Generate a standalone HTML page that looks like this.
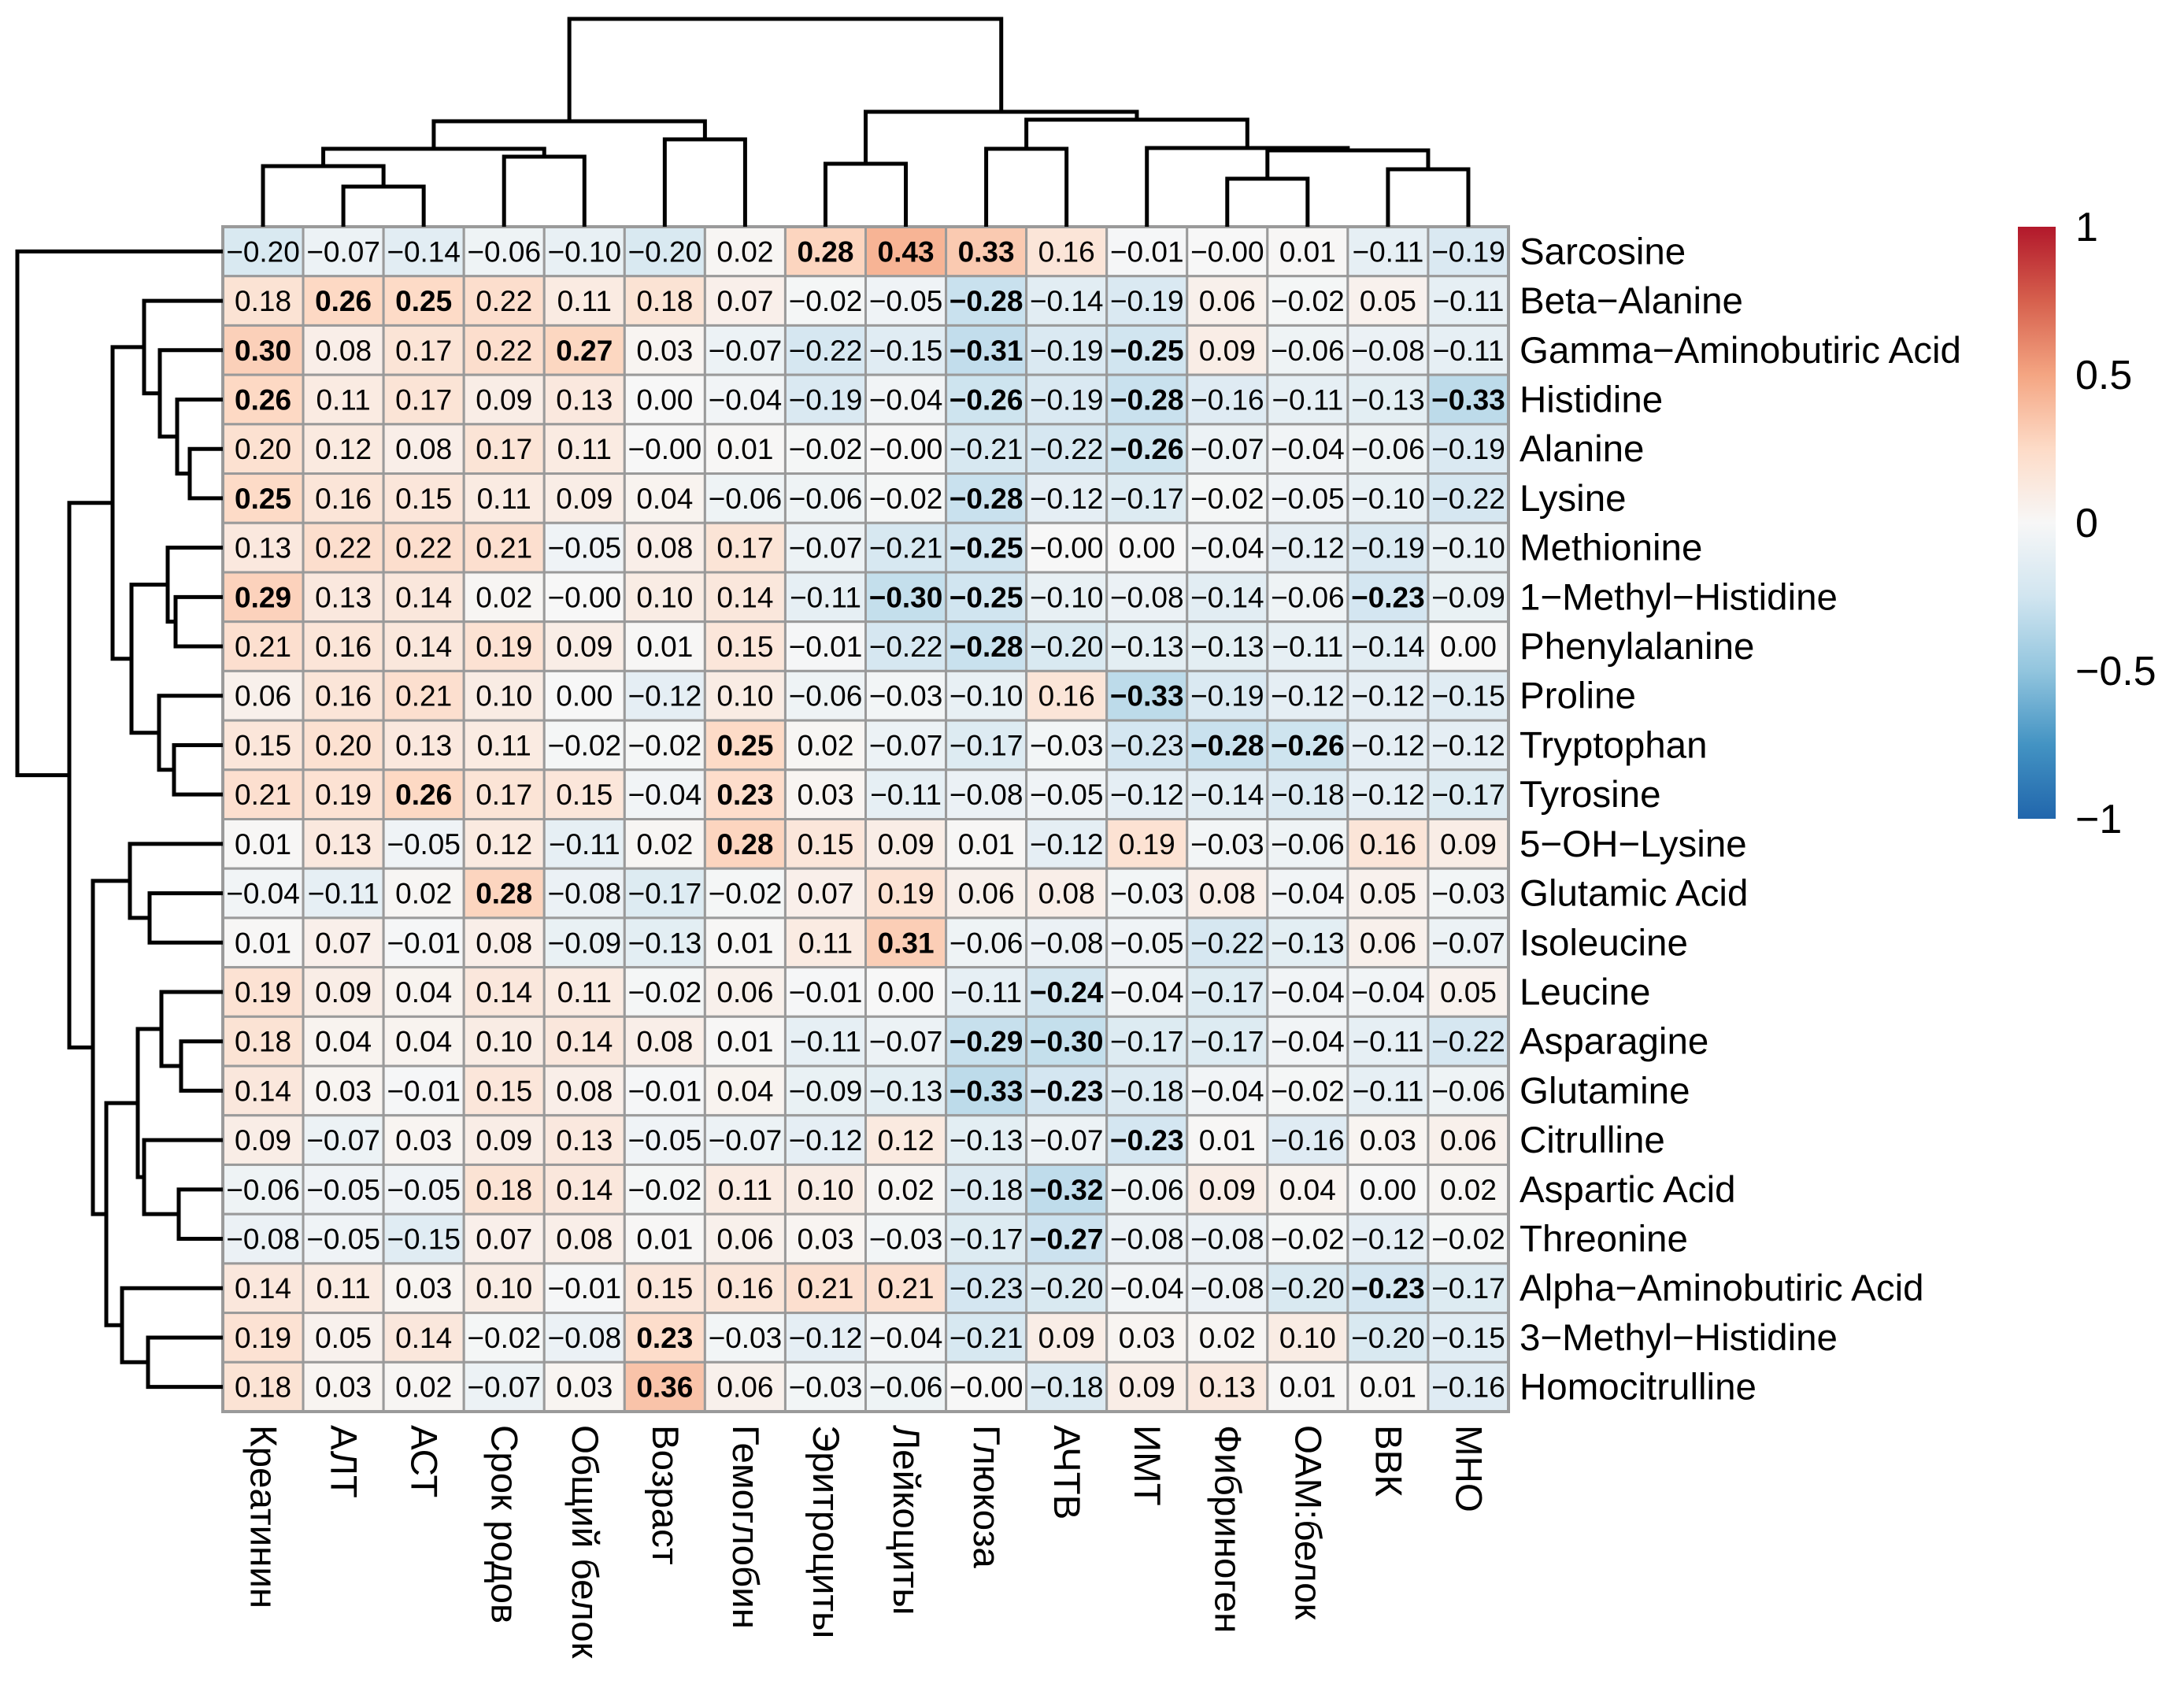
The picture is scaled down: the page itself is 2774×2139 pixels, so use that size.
<!DOCTYPE html>
<html><head><meta charset="utf-8">
<style>
html,body{margin:0;padding:0;background:#fff;}
svg{display:block;}
text{font-family:"Liberation Sans","DejaVu Sans",sans-serif;fill:#000;}
</style></head>
<body>
<svg id="chart" xmlns="http://www.w3.org/2000/svg" width="2774" height="2139" viewBox="0 0 2774 2139">
<defs>
<linearGradient id="rdbu" x1="0" y1="1" x2="0" y2="0">
<stop offset="0" stop-color="#2166AC"/><stop offset="0.125" stop-color="#4393C3"/><stop offset="0.25" stop-color="#92C5DE"/><stop offset="0.375" stop-color="#D1E5F0"/><stop offset="0.5" stop-color="#F7F7F7"/><stop offset="0.625" stop-color="#FDDBC7"/><stop offset="0.75" stop-color="#F4A582"/><stop offset="0.875" stop-color="#D6604D"/><stop offset="1" stop-color="#B2182B"/>
</linearGradient>
</defs>
<g id="cells"></g>
<g id="dendro"></g>
<g id="labels"></g>
<g id="legend">
<rect x="2563" y="288" width="48" height="752" fill="url(#rdbu)"/>
</g>
</svg>
<script>
const rowLabels = ["Sarcosine","Beta\u2212Alanine","Gamma\u2212Aminobutiric Acid","Histidine","Alanine","Lysine","Methionine","1\u2212Methyl\u2212Histidine","Phenylalanine","Proline","Tryptophan","Tyrosine","5\u2212OH\u2212Lysine","Glutamic Acid","Isoleucine","Leucine","Asparagine","Glutamine","Citrulline","Aspartic Acid","Threonine","Alpha\u2212Aminobutiric Acid","3\u2212Methyl\u2212Histidine","Homocitrulline"];
const colLabels = ["Креатинин","АЛТ","АСТ","Срок родов","Общий белок","Возраст","Гемоглобин","Эритроциты","Лейкоциты","Глюкоза","АЧТВ","ИМТ","Фибриноген","ОАМ:белок","ВВК","МНО"];
const values = [
[-0.20,-0.07,-0.14,-0.06,-0.10,-0.20,0.02,0.28,0.43,0.33,0.16,-0.01,-0.00,0.01,-0.11,-0.19],
[0.18,0.26,0.25,0.22,0.11,0.18,0.07,-0.02,-0.05,-0.28,-0.14,-0.19,0.06,-0.02,0.05,-0.11],
[0.30,0.08,0.17,0.22,0.27,0.03,-0.07,-0.22,-0.15,-0.31,-0.19,-0.25,0.09,-0.06,-0.08,-0.11],
[0.26,0.11,0.17,0.09,0.13,0.00,-0.04,-0.19,-0.04,-0.26,-0.19,-0.28,-0.16,-0.11,-0.13,-0.33],
[0.20,0.12,0.08,0.17,0.11,-0.00,0.01,-0.02,-0.00,-0.21,-0.22,-0.26,-0.07,-0.04,-0.06,-0.19],
[0.25,0.16,0.15,0.11,0.09,0.04,-0.06,-0.06,-0.02,-0.28,-0.12,-0.17,-0.02,-0.05,-0.10,-0.22],
[0.13,0.22,0.22,0.21,-0.05,0.08,0.17,-0.07,-0.21,-0.25,-0.00,0.00,-0.04,-0.12,-0.19,-0.10],
[0.29,0.13,0.14,0.02,-0.00,0.10,0.14,-0.11,-0.30,-0.25,-0.10,-0.08,-0.14,-0.06,-0.23,-0.09],
[0.21,0.16,0.14,0.19,0.09,0.01,0.15,-0.01,-0.22,-0.28,-0.20,-0.13,-0.13,-0.11,-0.14,0.00],
[0.06,0.16,0.21,0.10,0.00,-0.12,0.10,-0.06,-0.03,-0.10,0.16,-0.33,-0.19,-0.12,-0.12,-0.15],
[0.15,0.20,0.13,0.11,-0.02,-0.02,0.25,0.02,-0.07,-0.17,-0.03,-0.23,-0.28,-0.26,-0.12,-0.12],
[0.21,0.19,0.26,0.17,0.15,-0.04,0.23,0.03,-0.11,-0.08,-0.05,-0.12,-0.14,-0.18,-0.12,-0.17],
[0.01,0.13,-0.05,0.12,-0.11,0.02,0.28,0.15,0.09,0.01,-0.12,0.19,-0.03,-0.06,0.16,0.09],
[-0.04,-0.11,0.02,0.28,-0.08,-0.17,-0.02,0.07,0.19,0.06,0.08,-0.03,0.08,-0.04,0.05,-0.03],
[0.01,0.07,-0.01,0.08,-0.09,-0.13,0.01,0.11,0.31,-0.06,-0.08,-0.05,-0.22,-0.13,0.06,-0.07],
[0.19,0.09,0.04,0.14,0.11,-0.02,0.06,-0.01,0.00,-0.11,-0.24,-0.04,-0.17,-0.04,-0.04,0.05],
[0.18,0.04,0.04,0.10,0.14,0.08,0.01,-0.11,-0.07,-0.29,-0.30,-0.17,-0.17,-0.04,-0.11,-0.22],
[0.14,0.03,-0.01,0.15,0.08,-0.01,0.04,-0.09,-0.13,-0.33,-0.23,-0.18,-0.04,-0.02,-0.11,-0.06],
[0.09,-0.07,0.03,0.09,0.13,-0.05,-0.07,-0.12,0.12,-0.13,-0.07,-0.23,0.01,-0.16,0.03,0.06],
[-0.06,-0.05,-0.05,0.18,0.14,-0.02,0.11,0.10,0.02,-0.18,-0.32,-0.06,0.09,0.04,0.00,0.02],
[-0.08,-0.05,-0.15,0.07,0.08,0.01,0.06,0.03,-0.03,-0.17,-0.27,-0.08,-0.08,-0.02,-0.12,-0.02],
[0.14,0.11,0.03,0.10,-0.01,0.15,0.16,0.21,0.21,-0.23,-0.20,-0.04,-0.08,-0.20,-0.23,-0.17],
[0.19,0.05,0.14,-0.02,-0.08,0.23,-0.03,-0.12,-0.04,-0.21,0.09,0.03,0.02,0.10,-0.20,-0.15],
[0.18,0.03,0.02,-0.07,0.03,0.36,0.06,-0.03,-0.06,-0.00,-0.18,0.09,0.13,0.01,0.01,-0.16]];
const boldCells = ["0,7","0,8","0,9","1,1","1,2","1,9","2,0","2,4","2,9","2,11","3,0","3,9","3,11","3,15","4,11","5,0","5,9","6,9","7,0","7,8","7,9","7,14","8,9","9,11","10,6","10,12","10,13","11,2","11,6","12,6","13,3","14,8","15,10","16,9","16,10","17,9","17,10","18,11","19,10","20,10","21,14","22,5","23,5"];
const legendTicks = [1,0.5,0,-0.5,-1];
const legendTickLabels = ["1","0.5","0","\u22120.5","\u22121"];
// dendrogram merges: [left, right, height]
const cN12=[1,2,51], cN012=[0,cN12,77], cN34=[3,4,89], cN04=[cN012,cN34,99], cN56=[5,6,111], cL=[cN04,cN56,134];
const cN78=[7,8,80], cN910=[9,10,99], cN1213=[12,13,61], cN1415=[14,15,73], cN1215=[cN1213,cN1415,97], cN1115=[11,cN1215,100], cN915=[cN910,cN1115,136], cR=[cN78,cN915,146];
const colTree=[cL,cR,264];
const rN45=[4,5,42], rN35=[3,rN45,58], rN25=[2,rN35,80], rA1=[1,rN25,100];
const rN78=[7,8,60], rN68=[6,rN78,70], rN1011=[10,11,62], rN911=[9,rN1011,81], rA2=[rN68,rN911,116], rA=[rA1,rA2,140];
const rN1314=[13,14,93], rB1=[12,rN1314,118], rN1617=[16,17,53], rN1517=[15,rN1617,78], rN1920=[19,20,56], rN1820=[18,rN1920,100], rN1520=[rN1517,rN1820,108];
const rN2223=[22,23,95], rN2123=[21,rN2223,128], rB2=[rN1520,rN2123,148], rB=[rB1,rB2,165], rRest=[rA,rB,195];
const rowTree=[0,rRest,261];

const NS="http://www.w3.org/2000/svg";
const X0=283, X1=1916, Y0=288, Y1=1793;
const CW=(X1-X0)/colLabels.length, CH=(Y1-Y0)/rowLabels.length;
const xCol=i=>X0+CW*(i+0.5), yRow=i=>Y0+CH*(i+0.5);
const stops=[[-1,[33,102,172]],[-0.75,[67,147,195]],[-0.5,[146,197,222]],[-0.25,[209,229,240]],[0,[247,247,247]],[0.25,[253,219,199]],[0.5,[244,165,130]],[0.75,[214,96,77]],[1,[178,24,43]]];
function color(v){for(let i=0;i<stops.length-1;i++){const a=stops[i],b=stops[i+1];if(v<=b[0]){const t=(v-a[0])/(b[0]-a[0]);const c=a[1].map((x,k)=>Math.round(x+(b[1][k]-x)*t));return `rgb(${c})`;}}return "rgb(178,24,43)";}
function fmt(v){const s=Math.abs(v).toFixed(2);return (v<0||Object.is(v,-0))?"\u2212"+s:s;}
function mk(tag,attrs,parent){const e=document.createElementNS(NS,tag);for(const k in attrs)e.setAttribute(k,attrs[k]);parent.appendChild(e);return e;}

const cells=document.getElementById('cells');
values.forEach((row,r)=>row.forEach((v,c)=>{
  const rect=mk('rect',{x:X0+CW*c,y:Y0+CH*r,width:CW,height:CH,fill:color(v),stroke:'#9a9a9a','stroke-width':3},cells);
  
  
  const t=mk('text',{x:xCol(c),y:yRow(r)+13,'text-anchor':'middle','font-size':37,'font-weight':boldCells.includes(r+','+c)?'bold':'normal'},cells);
  t.textContent=fmt(v);
  
  
}));
mk('rect',{x:X0,y:Y0,width:X1-X0,height:Y1-Y0,fill:'none',stroke:'#9a9a9a','stroke-width':4},cells);

const labels=document.getElementById('labels');
rowLabels.forEach((l,r)=>{const t=mk('text',{x:1930,y:yRow(r)+16,'font-size':47.5},labels);t.textContent=l;
  
  });
colLabels.forEach((l,c)=>{const t=mk('text',{x:0,y:0,'font-size':47.5,'dominant-baseline':'central',transform:`translate(${xCol(c)},1810) rotate(90)`},labels);t.textContent=l;
  
  });

const legend=document.getElementById('legend');
legendTicks.forEach((v,i)=>{const y=1040-(v+1)/2*752;const t=mk('text',{x:2636,y:y+18,'font-size':52},legend);t.textContent=legendTickLabels[i];
  
  });

const dendro=document.getElementById('dendro');
const colY=h=>Y0-h;
const rowX=h=>X0-h;
function drawCol(n){if(typeof n==='number')return {p:xCol(n),y:Y0};
  const a=drawCol(n[0]),b=drawCol(n[1]),y=colY(n[2]);
  const p=mk('path',{d:`M${a.p},${a.y}V${y}H${b.p}V${b.y}`,fill:'none',stroke:'#000','stroke-width':5},dendro);
  
  
  return {p:(a.p+b.p)/2,y:y};}
function drawRow(n){if(typeof n==='number')return {p:yRow(n),x:X0};
  const a=drawRow(n[0]),b=drawRow(n[1]),x=rowX(n[2]);
  const p=mk('path',{d:`M${a.x},${a.p}H${x}V${b.p}H${b.x}`,fill:'none',stroke:'#000','stroke-width':5},dendro);
  
  
  return {p:(a.p+b.p)/2,x:x};}
drawCol(colTree);drawRow(rowTree);
</script>
</body></html>
